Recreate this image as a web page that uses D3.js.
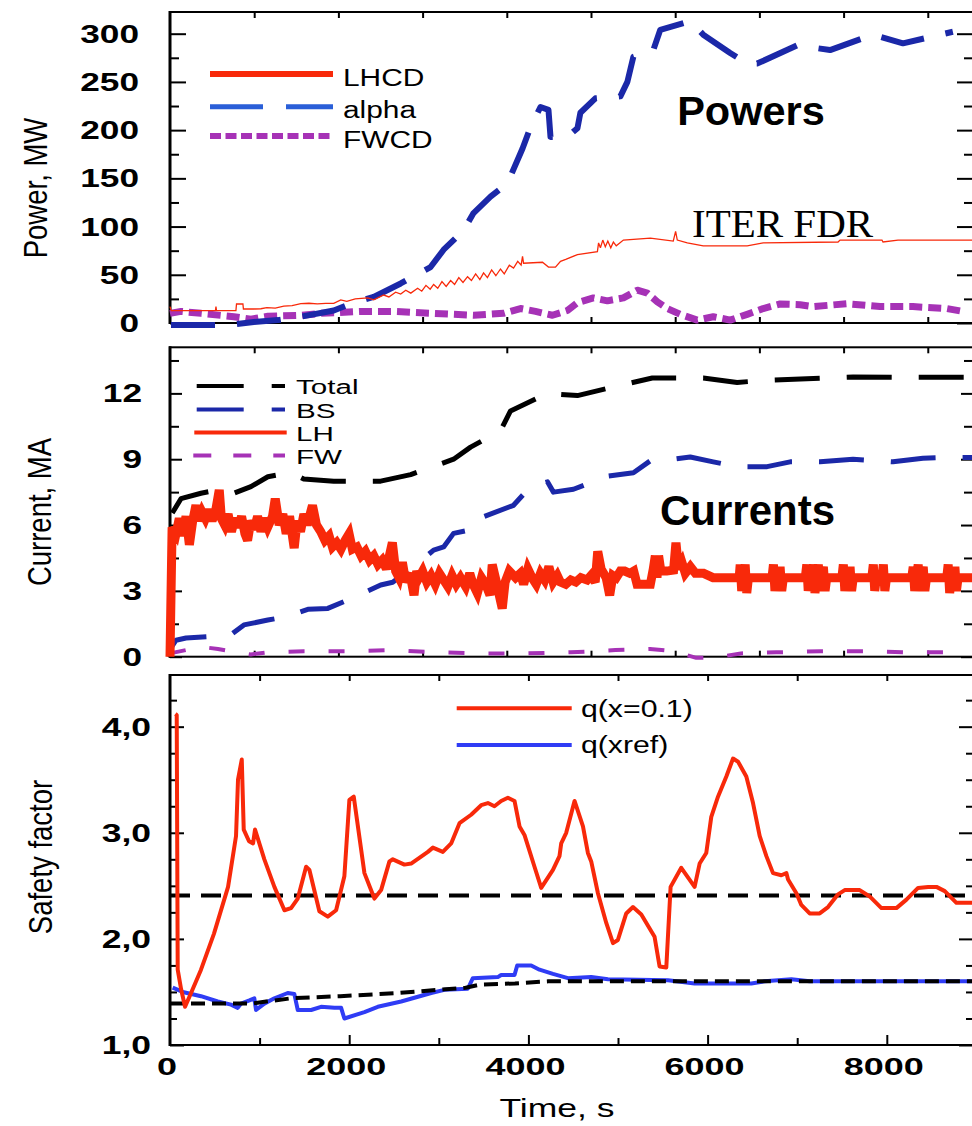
<!DOCTYPE html>
<html>
<head>
<meta charset="utf-8">
<script src="https://cdn.jsdelivr.net/npm/d3@7"></script>
<style>
  html, body { margin: 0; padding: 0; background: #fff; }
  svg { display: block; }
</style>
</head>
<body>
<script>
// ---------- Powers panel (MW vs time, s) ----------
const lhcdPower = [
  [0,17],[15,12.8],[540,12.8],[546,17],[552,12.8],[783,12.8],[790,19.7],[866,19.7],[872,14.5],
  [1000,14.5],[1079,14.8],[1150,16],[1250,15.5],[1352,17.5],[1450,18],[1554,20],[1650,20.5],
  [1750,19.8],[1850,20.4],[1945,20.4],[2028,24],[2100,22.5],[2200,25],[2348,26],[2420,24],
  [2538,29],[2600,27],[2680,32],[2740,30],[2800,34],[2860,31],[2941,36],[2990,33],[3040,39],
  [3090,35],[3131,40],[3180,36],[3230,43],[3280,38],[3333,44],[3380,40],[3430,47],[3480,42],
  [3534,48],[3580,44],[3630,51],[3680,45],[3724,52],[3770,47],[3820,55],[3870,49],[3925,56],
  [3970,51],[4030,60],[4080,57],[4130,64],[4170,60],[4187,69],[4199,62],[4424,63],[4495,58],
  [4578,58],[4638,64],[4700,66],[4839,71],[5076,74],[5090,83],[5112,78],[5140,86],[5170,79],
  [5200,85],[5235,78],[5266,84],[5300,80],[5385,86],[5705,88],[5977,85],[6005,95],[6025,86],
  [6144,83],[6333,80],[6855,80],[7045,83],[7934,84],[7958,86],[8456,86],[8468,84],[8646,86],[9537,86]
];
const alphaPower = [
  [12,-2],[688,-2],[996,1],[1281,3],[1554,6.5],[1945,13],[2147,20],[2419,27],[2740,41],
  [3095,58],[3250,76],[3487,96],[3605,114],[3807,131],[4009,145],[4187,181],[4281,203],
  [4400,224],[4495,221],[4519,193],[4720,193],[4839,202],[4874,218],[5052,233],[5349,235],
  [5432,250],[5503,276],[5740,283],[5823,304],[6179,313],[6333,299],[6653,280],[6855,269],
  [6973,269],[7448,288],[7839,283],[8349,299],[8705,290],[9298,302]
];
const fwcdPower = [
  [0,10],[130,12],[368,10],[759,6.5],[961,4],[1162,7],[1554,8],[1791,10],[2265,12],[2657,12],
  [3131,10],[3605,8],[3961,10],[4163,15],[4341,12],[4542,8],[4720,13],[4839,21],[5029,26],
  [5195,23],[5385,26],[5550,34],[5669,31],[5788,22],[5906,15],[6061,9],[6262,3],[6452,6.5],
  [6653,3],[6855,9],[7045,15],[7246,19.7],[7483,19],[7637,17],[8040,20],[8432,17],[8823,17],
  [9226,15],[9416,12]
];
const powerTicks = [0, 50, 100, 150, 200, 250, 300];

// ---------- Currents panel (MA vs time, s) ----------
const totalCurrent = [
  [0,0],[12,6.45],[130,7.2],[368,7.45],[569,7.6],[759,7.45],[961,7.75],[1162,8.2],[1435,8.4],
  [1589,8.1],[1945,8.0],[2502,8.0],[2858,8.3],[3368,9.0],[3570,9.55],[3926,10.3],[4044,11.2],
  [4483,12.0],[4839,11.9],[5384,12.4],[5728,12.7],[6333,12.7],[6736,12.5],[7092,12.6],
  [7756,12.7],[8112,12.75],[8753,12.73],[9108,12.73],[9537,12.73]
];
const bsCurrent = [
  [0,0.17],[12,0.4],[71,0.75],[190,0.85],[569,0.95],[723,1.0],[878,1.45],[1162,1.67],[1376,1.82],
  [1637,2.16],[1874,2.2],[2111,2.58],[2502,3.27],[2645,3.39],[2941,4.25],[3131,4.86],[3250,5.0],
  [3368,5.62],[3653,5.85],[3724,6.38],[4080,6.9],[4281,7.75],[4483,7.97],[4554,7.5],[4792,7.63],
  [4958,7.87],[5148,8.2],[5504,8.38],[5705,8.93],[5906,8.96],[6179,9.1],[6452,8.88],[6736,8.66],
  [7092,8.66],[7365,8.88],[7721,8.88],[8112,9.0],[8587,8.88],[8942,9.04],[9227,9.08],[9537,9.08]
];
const lhCurrent = [
  [0,0],[25,5.9],[71,5.6],[110,6.3],[150,5.5],[190,6.4],[230,5.1],[270,6.2],[308,6.9],[340,6.2],
  [380,6.6],[420,6.3],[460,6.7],[500,6.2],[540,6.6],[585,7.6],[610,6.3],[650,6.0],[690,6.5],
  [730,5.7],[770,6.3],[810,5.9],[850,6.4],[890,5.6],[921,5.3],[960,6.2],[1000,5.8],[1040,6.4],
  [1080,5.7],[1120,6.3],[1160,5.9],[1218,6.4],[1250,7.2],[1297,6.0],[1340,6.5],[1380,5.6],
  [1420,6.4],[1475,4.95],[1510,6.2],[1550,5.7],[1590,6.5],[1630,6.0],[1692,6.9],[1740,6.0],
  [1790,5.7],[1840,5.3],[1890,5.5],[1929,5.0],[1980,5.2],[2030,4.9],[2080,5.3],[2127,5.6],
  [2166,4.9],[2220,5.0],[2270,4.6],[2320,4.8],[2370,4.4],[2420,4.6],[2470,4.2],[2520,4.4],
  [2570,4.0],[2641,5.2],[2680,3.9],[2720,3.6],[2760,4.3],[2800,3.4],[2850,3.8],[2898,2.8],
  [2930,3.9],[2957,3.6],[3000,3.9],[3050,3.4],[3100,3.7],[3150,3.3],[3200,3.8],[3250,3.5],
  [3300,3.2],[3350,3.7],[3400,3.3],[3450,3.6],[3511,3.2],[3560,3.8],[3600,3.3],[3650,2.9],
  [3700,3.6],[3750,3.3],[3800,2.8],[3827,4.2],[3870,3.5],[3946,2.2],[3980,3.4],[4030,3.9],
  [4104,3.6],[4160,3.8],[4200,3.3],[4250,4.0],[4300,3.6],[4350,3.3],[4400,3.8],[4450,3.5],
  [4500,4.1],[4550,3.4],[4600,3.7],[4637,3.4],[4700,3.3],[4760,3.5],[4820,3.4],[4880,3.6],
  [4954,3.5],[5000,3.7],[5050,3.4],[5080,4.8],[5120,4.0],[5180,3.6],[5222,2.8],[5260,3.7],
  [5300,3.6],[5349,3.9],[5400,3.9],[5460,3.8],[5507,3.9],[5547,3.3],[5620,3.3],[5705,3.3],
  [5740,4.0],[5764,4.6],[5784,3.6],[5803,4.6],[5830,3.9],[5900,3.9],[5981,3.95],[6009,5.2],
  [6040,4.0],[6080,4.3],[6120,3.8],[6180,4.1],[6240,3.8],[6337,3.8],[6450,3.6],[6600,3.6],
  [6760,3.6],[6772,4.2],[6790,3.0],[6810,3.6],[6831,4.2],[6850,2.9],[6870,3.6],[7150,3.6],
  [7167,4.2],[7185,3.0],[7205,3.6],[7230,3.6],[7246,4.1],[7265,3.0],[7285,3.6],[7545,3.6],
  [7563,4.2],[7580,3.0],[7600,3.6],[7625,3.6],[7642,4.2],[7660,2.9],[7680,3.6],[7700,4.2],
  [7720,3.0],[7740,3.6],[7760,4.1],[7780,3.0],[7800,3.6],[7980,3.6],[7997,4.2],[8015,3.0],
  [8035,3.6],[8060,3.6],[8077,4.1],[8095,3.0],[8115,3.6],[8335,3.6],[8353,4.2],[8370,3.0],
  [8390,3.6],[8455,3.6],[8472,4.2],[8490,3.0],[8510,3.6],[8810,3.6],[8827,4.1],[8845,3.0],
  [8865,3.6],[8886,4.2],[8905,3.0],[8925,3.6],[8946,4.1],[8965,3.0],[8985,3.6],[9225,3.6],
  [9242,4.2],[9260,2.9],[9280,3.6],[9305,3.6],[9322,4.1],[9340,3.0],[9360,3.6],[9537,3.6]
];
const fwCurrent = [
  [0,0.15],[370,0.45],[570,0.35],[960,0.1],[1160,0.2],[1590,0.25],[2110,0.25],[2650,0.3],
  [3170,0.2],[3700,0.15],[4230,0.15],[4760,0.2],[5290,0.3],[5700,0.35],[5980,0.25],[6250,-0.05],
  [6460,-0.05],[6780,0.15],[7200,0.2],[7730,0.25],[8260,0.25],[8790,0.2],[9400,0.2]
];
const currentTicks = [0, 3, 6, 9, 12];

// ---------- Safety factor panel ----------
const qCore = [
  [60,4.12],[75,4.11],[86,1.71],[123,1.53],[168,1.36],[235,1.49],[346,1.71],[491,2.05],[648,2.49],
  [737,2.97],[759,3.5],[801,3.69],[823,3.03],[882,2.92],[927,2.9],[949,3.03],[1053,2.75],
  [1165,2.49],[1277,2.27],[1351,2.29],[1426,2.38],[1519,2.68],[1556,2.65],[1667,2.26],
  [1761,2.21],[1854,2.27],[1946,2.59],[2002,3.31],[2051,3.34],[2170,2.62],[2281,2.38],
  [2356,2.46],[2449,2.73],[2487,2.75],[2616,2.70],[2691,2.71],[2878,2.82],[2934,2.86],
  [3045,2.82],[3138,2.9],[3231,3.09],[3361,3.17],[3473,3.26],[3548,3.28],[3621,3.25],
  [3696,3.30],[3771,3.33],[3845,3.30],[3901,3.06],[3956,2.98],[4068,2.68],[4143,2.48],
  [4274,2.65],[4347,2.78],[4366,2.90],[4422,3.0],[4515,3.30],[4609,3.06],[4664,2.81],
  [4701,2.73],[4776,2.43],[4869,2.15],[4944,1.96],[4999,1.99],[5092,2.24],[5167,2.30],
  [5260,2.23],[5408,2.02],[5464,1.74],[5539,1.73],[5587,2.49],[5706,2.67],[5855,2.49],
  [5911,2.71],[5985,2.81],[6041,3.15],[6116,3.34],[6209,3.53],[6284,3.70],[6340,3.67],
  [6432,3.53],[6507,3.28],[6581,2.97],[6656,2.78],[6730,2.62],[6823,2.60],[6879,2.62],
  [6898,2.56],[6991,2.43],[7046,2.32],[7139,2.24],[7251,2.24],[7344,2.30],[7456,2.42],
  [7530,2.46],[7698,2.46],[7809,2.40],[7940,2.29],[8107,2.29],[8219,2.37],[8349,2.48],
  [8461,2.49],[8554,2.49],[8647,2.45],[8777,2.34],[8962,2.34]
];
const qRef = [
  [30,1.54],[142,1.50],[346,1.46],[533,1.41],[681,1.38],[756,1.35],[793,1.39],[886,1.42],
  [941,1.44],[960,1.33],[1053,1.39],[1165,1.44],[1314,1.49],[1388,1.48],[1426,1.33],[1575,1.33],
  [1686,1.36],[1835,1.35],[1910,1.35],[1946,1.25],[2170,1.31],[2319,1.36],[2580,1.41],
  [2915,1.49],[3063,1.52],[3324,1.53],[3380,1.63],[3659,1.64],[3696,1.66],[3845,1.66],
  [3875,1.75],[4031,1.75],[4124,1.71],[4274,1.67],[4441,1.63],[4701,1.64],[4888,1.62],
  [5558,1.61],[5855,1.58],[6488,1.58],[6637,1.60],[6935,1.62],[7139,1.60],[8962,1.60]
];
const qRefTarget = [
  [0,1.39],[900,1.39],[1350,1.44],[1900,1.46],[2550,1.49],[3300,1.54],[3470,1.57],
  [3850,1.58],[4220,1.60],[8962,1.60]
];
const qCoreTarget = 2.41;
const qTicks = [1, 2, 3, 4];
const qTickLabels = ["1,0", "2,0", "3,0", "4,0"];
const timeTicks = [0, 2000, 4000, 6000, 8000];

// ---------- layout ----------
const W = 972, H = 1126;
const X0 = 170, X1 = 973;
const SANS = "'Liberation Sans', Arial, Helvetica, sans-serif";
const RED = "#f8290a", NAVY = "#1b28a8", PURPLE = "#a632b6", QBLUE = "#2f3cf5";

const svg = d3.select("body").append("svg").attr("width", W).attr("height", H)
  .attr("viewBox", `0 0 ${W} ${H}`);

const xUpper = d3.scaleLinear().domain([0, 9537]).range([X0, X1]);
const xLower = d3.scaleLinear().domain([0, 8962]).range([X0, X1]);
const yPow = d3.scaleLinear().domain([0, 322.5]).range([323, 12]);
const yCur = d3.scaleLinear().domain([0, 14.1]).range([656.7, 347.3]);
const yQ = d3.scaleLinear().domain([1, 4.487]).range([1045, 675]);

function text(g, x, y, str, o) {
  return g.append("text")
    .attr("transform", `translate(${x},${y})` + (o.rot ? ` rotate(${o.rot})` : "") + ` scale(${o.sx || 1},${o.sy || 1})`)
    .attr("font-family", o.family || SANS)
    .attr("font-size", o.size)
    .attr("font-weight", o.weight || "normal")
    .attr("text-anchor", o.anchor || "start")
    .attr("fill", "#000")
    .text(str);
}

function frame(g, y) {
  const [ya, yb] = y.range();
  const top = Math.min(ya, yb), bot = Math.max(ya, yb);
  g.append("rect").attr("x", X0).attr("y", top).attr("width", X1 - X0).attr("height", bot - top)
    .attr("fill", "none").attr("stroke", "#000").attr("stroke-width", 2);
  g.append("line").attr("x1", X0).attr("x2", X0).attr("y1", top - 1).attr("y2", bot + 1)
    .attr("stroke", "#000").attr("stroke-width", 3);
}

function tickMarks(g, axisGen, tx, ty) {
  g.append("g").attr("transform", `translate(${tx},${ty})`).call(axisGen)
    .call(s => s.select(".domain").remove())
    .call(s => s.selectAll("line").attr("stroke", "#000").attr("stroke-width", 2));
}

function yTicks(g, y, major, minor, majLen, minLen) {
  tickMarks(g, d3.axisLeft(y).tickValues(major).tickSize(-majLen).tickFormat(""), X0, 0);
  tickMarks(g, d3.axisLeft(y).tickValues(minor).tickSize(-minLen).tickFormat(""), X0, 0);
  tickMarks(g, d3.axisRight(y).tickValues(major).tickSize(-majLen).tickFormat(""), X1, 0);
  tickMarks(g, d3.axisRight(y).tickValues(minor).tickSize(-minLen).tickFormat(""), X1, 0);
}

function xTicks(g, x, y, values, len) {
  const [ya, yb] = y.range();
  const top = Math.min(ya, yb), bot = Math.max(ya, yb);
  tickMarks(g, d3.axisTop(x).tickValues(values).tickSize(-len).tickFormat(""), 0, top);
  tickMarks(g, d3.axisBottom(x).tickValues(values).tickSize(-len).tickFormat(""), 0, bot);
}

const lineOf = (x, y) => d3.line().x(d => x(d[0])).y(d => y(d[1]));

function series(g, data, x, y, o) {
  g.append("path").datum(data).attr("d", lineOf(x, y))
    .attr("fill", "none").attr("stroke", o.color).attr("stroke-width", o.width)
    .attr("stroke-dasharray", o.dash || null)
    .attr("stroke-linejoin", o.join || "round").attr("stroke-linecap", "butt")
    .attr("stroke-miterlimit", 3);
}

function legendLine(g, x1, x2, y, o) {
  g.append("line").attr("x1", x1).attr("x2", x2).attr("y1", y).attr("y2", y)
    .attr("stroke", o.color).attr("stroke-width", o.width).attr("stroke-dasharray", o.dash || null);
}

// ================= Powers =================
const gP = svg.append("g");
frame(gP, yPow);
yTicks(gP, yPow, powerTicks, d3.range(25, 325, 50), 16, 9);
xTicks(gP, xUpper, yPow, d3.range(1000, 9537, 1000), 6);

series(gP, fwcdPower, xUpper, yPow, { color: PURPLE, width: 7, dash: "13,6" });
series(gP, alphaPower, xUpper, yPow, { color: NAVY, width: 6, dash: "44,22" });
series(gP, lhcdPower, xUpper, yPow, { color: RED, width: 1.3, join: "miter" });

powerTicks.forEach(v => text(gP, 139, yPow(v) + 9, String(v), { size: 25, weight: "bold", anchor: "end", sx: 1.41 }));
text(gP, 47, 188, "Power, MW", { size: 27.5, rot: -90, anchor: "middle", sy: 1.2 });

legendLine(gP, 210, 333, 74, { color: RED, width: 6 });
legendLine(gP, 210, 333, 106.7, { color: "#2a5fd8", width: 5, dash: "53,23" });
legendLine(gP, 210, 333, 136, { color: PURPLE, width: 6, dash: "11,4.5" });
text(gP, 343, 86, "LHCD", { size: 24.5, sx: 1.22 });
text(gP, 343, 118.3, "alpha", { size: 24.5, sx: 1.22 });
text(gP, 343, 148.3, "FWCD", { size: 24.5, sx: 1.22 });

text(gP, 751, 125, "Powers", { size: 41.5, weight: "bold", anchor: "middle" });
text(gP, 692, 237.3, "ITER FDR", { size: 41, family: "'Liberation Serif', 'Times New Roman', serif" });

// ================= Currents =================
const gC = svg.append("g");
frame(gC, yCur);
yTicks(gC, yCur, currentTicks, d3.range(1.5, 14, 3), 12, 9);
xTicks(gC, xUpper, yCur, d3.range(1000, 9537, 1000), 6);

series(gC, fwCurrent, xUpper, yCur, { color: PURPLE, width: 4, dash: "16,24" });
series(gC, bsCurrent, xUpper, yCur, { color: NAVY, width: 5, dash: "45,27" });
series(gC, totalCurrent, xUpper, yCur, { color: "#000", width: 5, dash: "45,27" });
series(gC, lhCurrent, xUpper, yCur, { color: RED, width: 9, join: "miter" });

currentTicks.forEach(v => text(gC, 142, yCur(v) + 9, String(v), { size: 25, weight: "bold", anchor: "end", sx: 1.41 }));
text(gC, 51, 512, "Current, MA", { size: 27.5, rot: -90, anchor: "middle", sy: 1.2 });

legendLine(gC, 196.7, 285, 386, { color: "#000", width: 4, dash: "47,28" });
legendLine(gC, 196.7, 285, 409.5, { color: NAVY, width: 4, dash: "47,28" });
legendLine(gC, 194.3, 286.7, 432.5, { color: RED, width: 4 });
legendLine(gC, 193.3, 285, 455.5, { color: PURPLE, width: 4, dash: "18,22" });
[["Total", 386], ["BS", 409.5], ["LH", 432.5], ["FW", 455.5]].forEach(([s, y]) =>
  text(gC, 296, y + 8, s, { size: 20, sx: 1.48 }));

text(gC, 747.5, 525, "Currents", { size: 42, weight: "bold", anchor: "middle" });

// ================= Safety factor =================
const gQ = svg.append("g");
frame(gQ, yQ);
yTicks(gQ, yQ, qTicks, d3.range(1.25, 4.4, 0.25).filter(v => Math.abs(v - Math.round(v)) > 0.01), 14, 7);
tickMarks(gQ, d3.axisTop(xLower).tickValues(d3.range(1000, 8962, 1000)).tickSize(-6).tickFormat(""), 0, 675);
tickMarks(gQ, d3.axisBottom(xLower).tickValues(d3.range(1000, 8962, 2000)).tickSize(-7).tickFormat(""), 0, 1045);
tickMarks(gQ, d3.axisBottom(xLower).tickValues(timeTicks.slice(1)).tickSize(-10).tickFormat(""), 0, 1045);

gQ.append("line").attr("x1", X0).attr("x2", X1).attr("y1", yQ(qCoreTarget)).attr("y2", yQ(qCoreTarget))
  .attr("stroke", "#000").attr("stroke-width", 4).attr("stroke-dasharray", "20,11");
series(gQ, qRef, xLower, yQ, { color: QBLUE, width: 4 });
series(gQ, qRefTarget, xLower, yQ, { color: "#000", width: 4, dash: "14,7" });
series(gQ, qCore, xLower, yQ, { color: RED, width: 4 });

qTicks.forEach((v, i) => text(gQ, 151, yQ(v) + 9, qTickLabels[i], { size: 25, weight: "bold", anchor: "end", sx: 1.42 }));
timeTicks.forEach(v => text(gQ, xLower(v) - 3, 1075, String(v), { size: 24, weight: "bold", anchor: "middle", sx: 1.5 }));
text(gQ, 557, 1116.7, "Time, s", { size: 25, anchor: "middle", sx: 1.42 });
text(gQ, 52, 857, "Safety factor", { size: 27.5, rot: -90, anchor: "middle", sy: 1.2 });

legendLine(gQ, 456.7, 571.7, 708.3, { color: RED, width: 4 });
legendLine(gQ, 456.7, 571.7, 745, { color: QBLUE, width: 4 });
text(gQ, 581, 716.7, "q(x=0.1)", { size: 24, sx: 1.26 });
text(gQ, 581, 753.3, "q(xref)", { size: 24, sx: 1.26 });
</script>
</body>
</html>
